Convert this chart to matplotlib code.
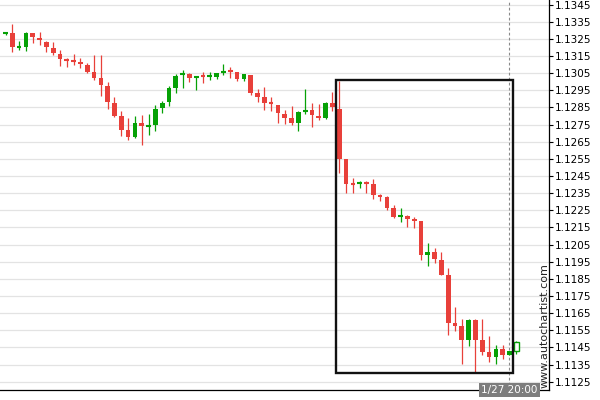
import matplotlib
matplotlib.use('Agg')
import matplotlib.pyplot as plt
import matplotlib.patches as patches
import matplotlib.transforms as mtransforms

# candle values (EURUSD style, 76 bars)
opens = [1.13280, 1.13284, 1.13200, 1.13201, 1.13284, 1.13257, 1.13234, 1.13199, 1.13164, 1.13127,
         1.13121, 1.13117, 1.13100, 1.13059, 1.13024, 1.12978, 1.12879, 1.12803, 1.12716, 1.12677,
         1.12757, 1.12743, 1.12747, 1.12846, 1.12881, 1.12966, 1.13042, 1.13048, 1.13024, 1.13034,
         1.13031, 1.13028, 1.13057, 1.13062, 1.13057, 1.13018, 1.13040, 1.12935, 1.12912, 1.12877,
         1.12865, 1.12813, 1.12790, 1.12762, 1.12828, 1.12836, 1.12801, 1.12791, 1.12877, 1.12840,
         1.12550, 1.12407, 1.12405, 1.12410, 1.12405, 1.12340, 1.12329, 1.12265, 1.12214, 1.12218,
         1.12200, 1.12188, 1.11987, 1.12008, 1.11962, 1.11875, 1.11590, 1.11573, 1.11492, 1.11610,
         1.11492, 1.11422, 1.11395, 1.11443, 1.11409, 1.11430]
highs = [1.13290, 1.13336, 1.13236, 1.13292, 1.13286, 1.13290, 1.13240, 1.13230, 1.13185, 1.13141,
         1.13164, 1.13141, 1.13111, 1.13158, 1.13158, 1.13001, 1.12914, 1.12832, 1.12786, 1.12801,
         1.12809, 1.12813, 1.12865, 1.12890, 1.12978, 1.13048, 1.13071, 1.13050, 1.13034, 1.13059,
         1.13059, 1.13051, 1.13102, 1.13088, 1.13059, 1.13047, 1.13042, 1.12956, 1.12970, 1.12910,
         1.12867, 1.12834, 1.12857, 1.12830, 1.12956, 1.12877, 1.12869, 1.12883, 1.12939, 1.13003,
         1.12552, 1.12438, 1.12420, 1.12420, 1.12432, 1.12348, 1.12333, 1.12280, 1.12265, 1.12220,
         1.12210, 1.12190, 1.12059, 1.12031, 1.12008, 1.11913, 1.11687, 1.11619, 1.11618, 1.11618,
         1.11618, 1.11515, 1.11467, 1.11467, 1.11430, 1.11486]
lows = [1.13270, 1.13172, 1.13185, 1.13181, 1.13226, 1.13214, 1.13172, 1.13158, 1.13092, 1.13084,
        1.13098, 1.13079, 1.13049, 1.13013, 1.12916, 1.12840, 1.12797, 1.12683, 1.12660, 1.12671,
        1.12633, 1.12691, 1.12714, 1.12819, 1.12859, 1.12937, 1.12964, 1.12999, 1.12952, 1.12995,
        1.13009, 1.13014, 1.13040, 1.13024, 1.13003, 1.13003, 1.12925, 1.12884, 1.12838, 1.12828,
        1.12759, 1.12755, 1.12749, 1.12712, 1.12811, 1.12735, 1.12776, 1.12782, 1.12830, 1.12467,
        1.12350, 1.12350, 1.12383, 1.12350, 1.12315, 1.12302, 1.12253, 1.12204, 1.12181, 1.12152,
        1.12146, 1.11960, 1.11923, 1.11944, 1.11871, 1.11525, 1.11548, 1.11351, 1.11457, 1.11308,
        1.11405, 1.11368, 1.11356, 1.11385, 1.11405, 1.11412]
closes = [1.13284, 1.13201, 1.13205, 1.13284, 1.13259, 1.13241, 1.13201, 1.13166, 1.13131, 1.13125,
          1.13119, 1.13102, 1.13059, 1.13024, 1.12980, 1.12881, 1.12803, 1.12718, 1.12677, 1.12757,
          1.12741, 1.12745, 1.12844, 1.12879, 1.12966, 1.13036, 1.13044, 1.13020, 1.13027, 1.13031,
          1.13035, 1.13049, 1.13061, 1.13059, 1.13018, 1.13045, 1.12935, 1.12914, 1.12879, 1.12874,
          1.12815, 1.12791, 1.12760, 1.12824, 1.12834, 1.12809, 1.12791, 1.12877, 1.12850, 1.12552,
          1.12401, 1.12404, 1.12410, 1.12407, 1.12342, 1.12329, 1.12265, 1.12214, 1.12218, 1.12202,
          1.12189, 1.11987, 1.12008, 1.11964, 1.11875, 1.11592, 1.11573, 1.11492, 1.11610, 1.11492,
          1.11422, 1.11395, 1.11443, 1.11407, 1.11428, 1.11484]

# price axis labels
y_labels = ['1.1125', '1.1135', '1.1145', '1.1155', '1.1165', '1.1175', '1.1185', '1.1195',
            '1.1205', '1.1215', '1.1225', '1.1235', '1.1245', '1.1255', '1.1265', '1.1275',
            '1.1285', '1.1295', '1.1305', '1.1315', '1.1325', '1.1335', '1.1345']

# pattern box (bar index range + price range) and time marker
box_start, box_end = 48.5, 74.5
box_low, box_high = 1.11303, 1.13011
marker_bar = 74
marker_label = '1/27 20:00'
watermark = 'www.autochartist.com'

RED = '#e8403a'
GREEN = '#06a106'

fig = plt.figure(figsize=(6, 4), dpi=100)
ax = fig.add_axes([0, 0.025, 549 / 600, 0.975])

n = len(opens)
w = 0.69
for i in range(n):
    o, h, l, c = opens[i], highs[i], lows[i], closes[i]
    col = GREEN if c >= o else RED
    ax.vlines(i, l, h, color=col, lw=0.9, zorder=3)
    if i == n - 1:
        # last (forming) bar drawn hollow
        ax.bar(i, abs(c - o), bottom=min(o, c), width=w, facecolor='white',
               edgecolor=col, lw=1.0, zorder=4)
    elif abs(c - o) < 0.00008:
        ax.hlines((o + c) / 2, i - w / 2, i + w / 2, color=col, lw=1.5, zorder=4)
    else:
        ax.bar(i, abs(c - o), bottom=min(o, c), width=w, color=col, lw=0, zorder=4)

ax.add_patch(patches.Rectangle((box_start, box_low), box_end - box_start, box_high - box_low,
                               fill=False, edgecolor='#111111', lw=1.7, zorder=5))

ax.axvline(marker_bar, color='#8a8a8a', lw=0.8, ls=(0, (2.5, 2)), zorder=2)

ax.set_xlim(-0.81, 79.8)
ax.set_ylim(1.11202, 1.13477)

ax.yaxis.tick_right()
ax.set_yticks([float(s) for s in y_labels])
ax.set_yticklabels(y_labels)
ax.tick_params(axis='y', which='both', length=3, width=0.8, pad=1, labelsize=7.5, colors='black')
ax.set_xticks([])
ax.grid(axis='y', color='#e3e3e3', lw=0.9, zorder=0)
ax.set_axisbelow(True)

for s in ['left', 'top']:
    ax.spines[s].set_visible(False)
ax.spines['right'].set_color('black')
ax.spines['bottom'].set_color('black')
ax.spines['right'].set_linewidth(0.9)
ax.spines['bottom'].set_linewidth(0.9)

trans = mtransforms.blended_transform_factory(ax.transData, ax.transAxes)
ax.text(marker_bar, 0.0, marker_label, transform=trans, ha='center', va='center',
        fontsize=7.5, color='white', zorder=10, clip_on=False,
        bbox=dict(boxstyle='square,pad=0.2', facecolor='#7d7d7d', edgecolor='none'))

ax.text(0.991, 0.006, watermark, transform=ax.transAxes, rotation=90, ha='center', va='bottom',
        fontsize=8, color='#222222', zorder=10)

fig.savefig('out.png', dpi=100)
